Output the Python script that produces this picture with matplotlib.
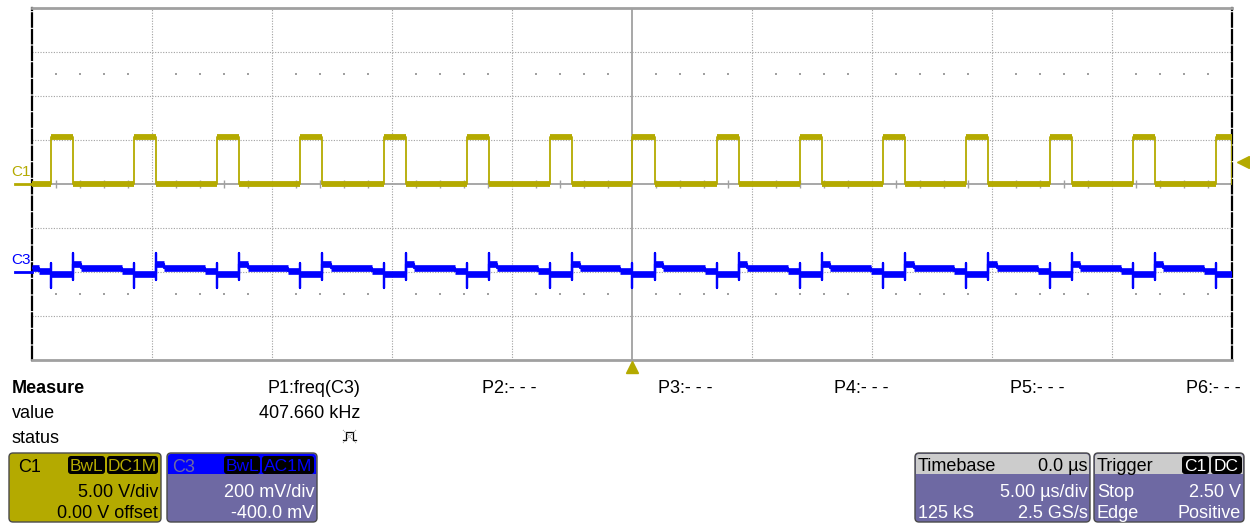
import matplotlib
matplotlib.use('Agg')
import matplotlib.pyplot as plt
from matplotlib.patches import FancyBboxPatch, Rectangle

plt.rcParams['font.family'] = ['Liberation Sans', 'DejaVu Sans']

# scope settings
TIME_DIV = 5.0        # us/div
C1_SCALE = 5.0        # V/div
C1_OFFSET = 0.0       # V
C3_SCALE = 200.0      # mV/div
C3_OFFSET = -400.0    # mV
TRIG_LEVEL = 2.50     # V

# C1 gate drive: edge times (us) and levels (V)
c1_rise = [-24.21, -20.75, -17.29, -13.83, -10.33, -6.88, -3.42, 0.0,
           3.54, 7.00, 10.46, 13.92, 17.42, 20.88, 24.33]
c1_fall = [-23.29, -19.83, -16.37, -12.91, -9.42, -5.96, -2.50, 0.96,
           4.46, 7.92, 11.38, 14.84, 18.33, 21.79, 25.25]
c1_high = 5.35
c1_low = -0.05

# C3 ripple (mV, AC coupled): plateau levels and edge spikes
c3_off = 20.0
c3_after_fall = 36.0
c3_pre_rise = 6.0
c3_on = -10.0
c3_rise_spike = (40.0, -72.0)
c3_fall_spike = (88.0, -38.0)
c3_settle = 0.35      # us after a fall
c3_lead = 0.5         # us before a rise

# measurement panel
meas_params = ['P1:freq(C3)', 'P2:- - -', 'P3:- - -', 'P4:- - -', 'P5:- - -', 'P6:- - -']
meas_values = ['407.660 kHz', '', '', '', '', '']

YEL = '#b4aa00'
BLU = '#0000ff'
PUR = '#6e69a3'
GRY = '#a0a0a0'

t0, t1 = -5 * TIME_DIV, 5 * TIME_DIV


def c1_div(v):
    return (v + C1_OFFSET) / C1_SCALE


def c3_div(mv):
    return (mv + C3_OFFSET) / C3_SCALE


fig = plt.figure(figsize=(12.5, 5.25), dpi=100)

# pixel-space layer for the readout boxes
pan = fig.add_axes([0, 0, 1, 1], zorder=0)
pan.set_xlim(0, 1250)
pan.set_ylim(525, 0)
pan.axis('off')

ax = fig.add_axes([32 / 1250, 165 / 525, 1200 / 1250, 352 / 525], zorder=1)
ax.set_xlim(t0, t1)
ax.set_ylim(-4, 4)
ax.set_xticks([])
ax.set_yticks([])

# graticule
for k in range(-4, 5):
    if k != 0:
        ax.axvline(k * TIME_DIV, color=GRY, lw=0.8, ls=(0, (1, 1.4)), zorder=1)
for k in range(-3, 4):
    if k != 0:
        ax.axhline(k, color=GRY, lw=0.8, ls=(0, (1, 1.4)), zorder=1)
ax.axvline(0, color=GRY, lw=1.3, zorder=1)
ax.axhline(0, color=GRY, lw=1.3, zorder=1)
minor = [t for t in range(int(t0) + 1, int(t1)) if t % 5 != 0]
ax.vlines(minor, -0.09, 0.09, color=GRY, lw=1.0, zorder=1)
for yy in (2.5, -2.5):
    ax.scatter(minor, [yy] * len(minor), s=1.2, marker='s', color=GRY, lw=0, zorder=1)

for s in ('top', 'bottom'):
    ax.spines[s].set_color(GRY)
    ax.spines[s].set_linewidth(2.0)
for s in ('left', 'right'):
    ax.spines[s].set_color('black')
    ax.spines[s].set_linewidth(1.6)
    ax.spines[s].set_linestyle((0, (6, 1.5)))

# C1 trace
tx, ty = [t0], [c1_div(c1_low)]
segs = []
prev = t0
for r, f in zip(c1_rise, c1_fall):
    tx += [r, r, min(f, t1), min(f, t1)]
    ty += [c1_div(c1_low), c1_div(c1_high), c1_div(c1_high), c1_div(c1_low)]
    segs.append((prev, r, c1_div(c1_low)))
    segs.append((r, min(f, t1), c1_div(c1_high)))
    prev = f
if prev < t1:
    tx.append(t1)
    ty.append(c1_div(c1_low))
    segs.append((prev, t1, c1_div(c1_low)))
ax.plot(tx, ty, color=YEL, lw=1.3, zorder=3)
lc = ax.hlines([s[2] for s in segs], [s[0] for s in segs], [s[1] for s in segs],
               color=YEL, lw=4.2, zorder=3)
lc.set_capstyle('butt')

# C3 trace
cx, cy = [], []
csegs = []
prev = None
for r, f in zip(c1_rise, c1_fall):
    if prev is None:
        csegs.append((t0, r - c3_lead, c3_off))
    else:
        csegs.append((prev, prev + c3_settle, c3_after_fall))
        csegs.append((prev + c3_settle, r - c3_lead, c3_off))
    csegs.append((r - c3_lead, r, c3_pre_rise))
    csegs.append((r, min(f, t1), c3_on))
    if f >= t1:
        break
    prev = f
for a, b, lvl in csegs:
    if a in c1_rise:
        cx += [a, a, a]
        cy += [c3_div(c3_rise_spike[0]), c3_div(c3_rise_spike[1]), c3_div(lvl)]
    elif a in c1_fall:
        cx += [a, a, a]
        cy += [c3_div(c3_fall_spike[0]), c3_div(c3_fall_spike[1]), c3_div(lvl)]
    cx += [a, b]
    cy += [c3_div(lvl), c3_div(lvl)]
ax.plot(cx, cy, color=BLU, lw=1.6, zorder=4)
lc3 = ax.hlines([c3_div(s[2]) for s in csegs], [s[0] for s in csegs], [s[1] for s in csegs],
                color=BLU, lw=4.8, zorder=4)
lc3.set_capstyle('butt')

# channel ground markers, trigger level and trigger position
pad = 0.7
ax.plot([t0 - pad, t0], [c1_div(0)] * 2, color=YEL, lw=2, clip_on=False, zorder=5)
ax.plot([t0 - pad, t0], [c3_div(0)] * 2, color=BLU, lw=2, clip_on=False, zorder=5)
ax.text(t0 - 0.45, c1_div(0) + 0.12, 'C1', color=YEL, fontsize=11, ha='center', va='bottom',
        clip_on=False)
ax.text(t0 - 0.45, c3_div(0) + 0.12, 'C3', color=BLU, fontsize=11, ha='center', va='bottom',
        clip_on=False)
ax.plot([t1 + 0.45], [c1_div(TRIG_LEVEL)], marker='<', ms=8, color=YEL, clip_on=False, zorder=5)
ax.plot([0], [-4.15], marker='^', ms=9, color=YEL, clip_on=False, zorder=5)

# measurement rows
pan.text(12, 393, 'Measure', fontsize=13, fontweight='bold', va='baseline')
pan.text(12, 418, 'value', fontsize=13, va='baseline')
pan.text(12, 443, 'status', fontsize=13, va='baseline')
col_right = [360, 536, 712, 889, 1065, 1241]
for xr, p, v in zip(col_right, meas_params, meas_values):
    pan.text(xr, 393, p, fontsize=13, ha='right', va='baseline')
    if v:
        pan.text(xr, 418, v, fontsize=13, ha='right', va='baseline')
# status glyph
pan.plot([343, 346, 346, 353, 353, 356], [440, 440, 432, 432, 440, 440], color='black', lw=0.9)
pan.plot([343, 356], [430, 443], color='#888888', lw=0.7, ls=(0, (1, 1)))
pan.plot([343, 356], [443, 430], color='#888888', lw=0.7, ls=(0, (1, 1)))


def readout(x0, x1, face, head=None):
    pan.add_patch(FancyBboxPatch((x0, 453), x1 - x0, 69, boxstyle='round,pad=0,rounding_size=4',
                                 fc=face, ec='#4a4a4a', lw=1.0))
    if head:
        pan.add_patch(FancyBboxPatch((x0 + 1, 454), x1 - x0 - 2, 20,
                                     boxstyle='round,pad=0,rounding_size=3', fc=head, ec='none'))
        pan.add_patch(Rectangle((x0 + 1, 466), x1 - x0 - 2, 8, fc=head, ec='none'))


def badge(x0, x1, label, color):
    pan.add_patch(FancyBboxPatch((x0, 456), x1 - x0, 18, boxstyle='round,pad=0,rounding_size=3',
                                 fc='black', ec='none'))
    pan.text((x0 + x1) / 2, 471, label, fontsize=12.5, color=color, ha='center', va='baseline')


# C1 box
readout(9, 161, YEL)
pan.text(18, 472, 'C1', fontsize=13, va='baseline')
badge(68, 105, 'BwL', YEL)
badge(107, 158, 'DC1M', YEL)
pan.text(158, 497, '5.00 V/div', fontsize=13, ha='right', va='baseline')
pan.text(158, 518, '0.00 V offset', fontsize=13, ha='right', va='baseline')

# C3 box
readout(167, 317, PUR, head=BLU)
pan.text(172, 472, 'C3', fontsize=13, color=PUR, va='baseline')
badge(224, 260, 'BwL', BLU)
badge(262, 314, 'AC1M', BLU)
pan.text(314, 497, '200 mV/div', fontsize=13, color='white', ha='right', va='baseline')
pan.text(314, 518, '-400.0 mV', fontsize=13, color='white', ha='right', va='baseline')

# timebase box
readout(915, 1090, PUR, head='#cccccc')
pan.text(918, 471, 'Timebase', fontsize=13, va='baseline')
pan.text(1088, 471, '0.0 µs', fontsize=13, ha='right', va='baseline')
pan.text(1088, 497, '5.00 µs/div', fontsize=13, color='white', ha='right', va='baseline')
pan.text(918, 518, '125 kS', fontsize=13, color='white', va='baseline')
pan.text(1088, 518, '2.5 GS/s', fontsize=13, color='white', ha='right', va='baseline')

# trigger box
readout(1094, 1244, PUR, head='#cccccc')
pan.text(1097, 471, 'Trigger', fontsize=13, va='baseline')
badge(1182, 1209, 'C1', 'white')
badge(1211, 1242, 'DC', 'white')
pan.text(1097, 497, 'Stop', fontsize=13, color='white', va='baseline')
pan.text(1241, 497, '2.50 V', fontsize=13, color='white', ha='right', va='baseline')
pan.text(1097, 518, 'Edge', fontsize=13, color='white', va='baseline')
pan.text(1241, 518, 'Positive', fontsize=13, color='white', ha='right', va='baseline')

fig.savefig('out.png', dpi=100)
